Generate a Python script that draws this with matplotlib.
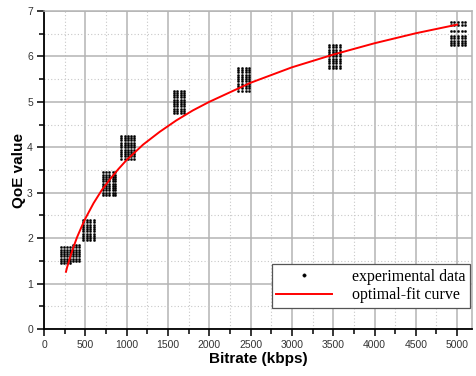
import numpy as np
import matplotlib
matplotlib.use("Agg")
import matplotlib.pyplot as plt
from matplotlib.ticker import MultipleLocator

# ---- experimental data clusters (bitrate columns x QoE rows) ----
c1_bitrate = [200, 240, 280, 315]
c1_qoe = [1.45, 1.5, 1.55, 1.6, 1.65, 1.7, 1.75, 1.8]
c2_bitrate = [345, 385, 425]
c2_qoe = [1.5, 1.55, 1.6, 1.65, 1.7, 1.75, 1.8, 1.85]
c3_bitrate = [470, 515, 560, 605]
c3_qoe = [1.95, 2.0, 2.05, 2.1, 2.15, 2.2, 2.25, 2.3, 2.35, 2.4]
c4_bitrate = [710, 750, 790, 830, 865]
c4_qoe = [2.95, 3.0, 3.05, 3.1, 3.15, 3.2, 3.25, 3.3, 3.35, 3.4, 3.45]
c5_bitrate = [935, 975, 1015, 1055, 1095]
c5_qoe = [3.75, 3.8, 3.85, 3.9, 3.95, 4.0, 4.05, 4.1, 4.15, 4.2, 4.25]
c6_bitrate = [1570, 1615, 1660, 1700]
c6_qoe = [4.75, 4.8, 4.85, 4.9, 4.95, 5.0, 5.05, 5.1, 5.15, 5.2, 5.25]
c7_bitrate = [2350, 2395, 2440, 2485]
c7_qoe = [5.25, 5.3, 5.35, 5.4, 5.45, 5.5, 5.55, 5.6, 5.65, 5.7, 5.75]
c8_bitrate = [3450, 3495, 3540, 3585]
c8_qoe = [5.75, 5.8, 5.85, 5.9, 5.95, 6.0, 6.05, 6.1, 6.15, 6.2, 6.25]
c9_bitrate = [4920, 4965, 5010, 5055, 5095]
c9_qoe = [6.25, 6.3, 6.35, 6.4, 6.45, 6.55, 6.7, 6.75]

clusters = [
    (c1_bitrate, c1_qoe), (c2_bitrate, c2_qoe), (c3_bitrate, c3_qoe),
    (c4_bitrate, c4_qoe), (c5_bitrate, c5_qoe), (c6_bitrate, c6_qoe),
    (c7_bitrate, c7_qoe), (c8_bitrate, c8_qoe), (c9_bitrate, c9_qoe),
]

# ---- optimal-fit curve ----
fit_bitrate = [266, 280, 300, 325, 350, 400, 450, 500, 600, 700, 800, 900,
               1000, 1200, 1400, 1600, 1800, 2000, 2500, 3000, 3500, 4000,
               4500, 5000]
fit_qoe = [1.26, 1.36, 1.48, 1.63, 1.77, 2.02, 2.23, 2.43, 2.77, 3.06, 3.30,
           3.52, 3.72, 4.06, 4.34, 4.59, 4.81, 5.00, 5.42, 5.76, 6.04, 6.29,
           6.51, 6.70]

x_ticks = [0, 500, 1000, 1500, 2000, 2500, 3000, 3500, 4000, 4500, 5000]
y_ticks = [0, 1, 2, 3, 4, 5, 6, 7]

fig = plt.figure(figsize=(4.76, 3.76), dpi=100)
ax = fig.add_axes([44/476, 1-329/376, (472-44)/476, (329-11)/376])

ax.set_xlim(0, 5180)
ax.set_ylim(0, 7)

ax.xaxis.set_major_locator(MultipleLocator(500))
ax.xaxis.set_minor_locator(MultipleLocator(250))
ax.yaxis.set_major_locator(MultipleLocator(1))
ax.yaxis.set_minor_locator(MultipleLocator(0.5))
ax.set_xticks(x_ticks)
ax.set_yticks(y_ticks)

ax.grid(which="major", color="#b4b4b4", linewidth=1.1, linestyle="-")
ax.grid(which="minor", color="#c8c8c8", linewidth=0.8, linestyle=(0, (1, 2)))
ax.set_axisbelow(True)

first = True
for bx, qy in clusters:
    X, Y = np.meshgrid(bx, qy)
    ax.plot(X.ravel(), Y.ravel(), linestyle="none", marker="o",
            markersize=1.5, markeredgewidth=0.35, markeredgecolor="black",
            color="black",
            label="experimental data" if first else None)
    first = False

ax.plot(fit_bitrate, fit_qoe, color="red", linewidth=1.4,
        label="optimal-fit curve")

for s in ["left", "bottom"]:
    ax.spines[s].set_color("black")
    ax.spines[s].set_linewidth(1.3)
for s in ["top", "right"]:
    ax.spines[s].set_color("#b4b4b4")
    ax.spines[s].set_linewidth(1.1)

ax.tick_params(which="major", direction="out", length=5, width=1.1,
               labelsize=7.5, colors="black", labelcolor="#333333", pad=3)
ax.tick_params(which="minor", direction="out", length=3.5, width=1.1,
               colors="black")
for lab in ax.get_xticklabels() + ax.get_yticklabels():
    lab.set_family("Liberation Sans")

ax.set_xlabel("Bitrate (kbps)", fontsize=11, fontweight="bold",
              family="Liberation Sans", labelpad=1)
ax.set_ylabel("QoE value", fontsize=11, fontweight="bold",
              family="Liberation Sans", labelpad=1)

leg = ax.legend(loc="lower right", bbox_to_anchor=(0.995, 0.066),
                borderaxespad=0,
                prop={"family": "Liberation Serif", "size": 11.5},
                frameon=True, fancybox=False, edgecolor="#555555",
                framealpha=1, borderpad=0.3, handlelength=3.5,
                handletextpad=1.2, labelspacing=0.15, markerscale=1.6)
leg.get_frame().set_linewidth(0.9)

fig.savefig("out.png", dpi=100)
